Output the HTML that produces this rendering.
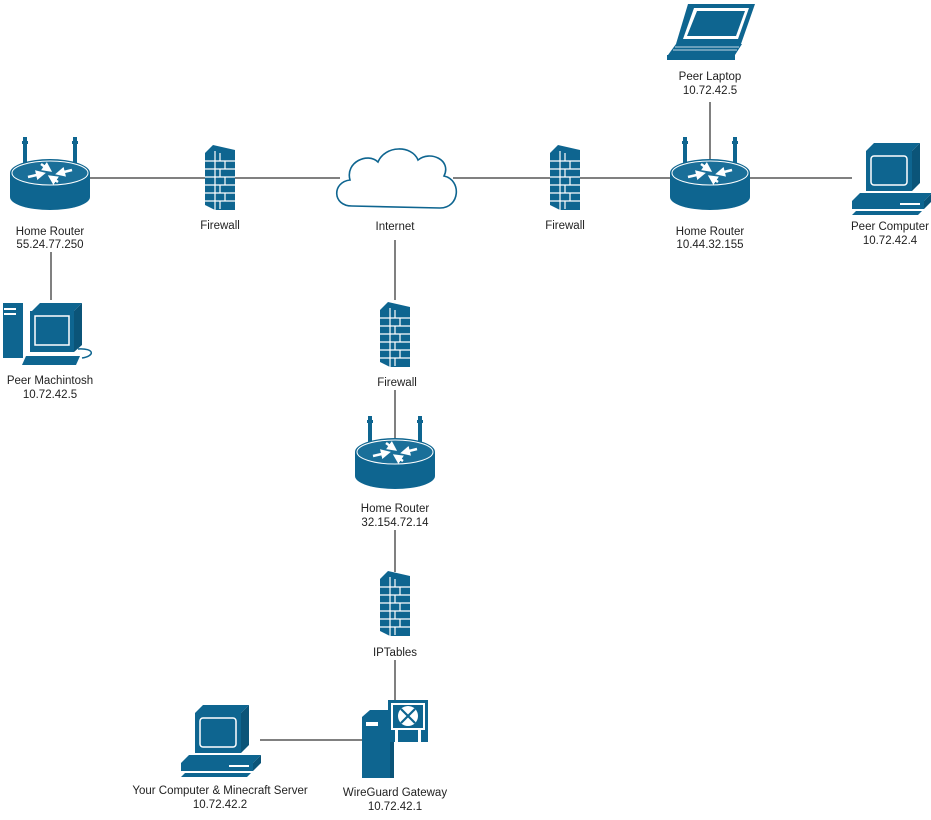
<!DOCTYPE html>
<html><head><meta charset="utf-8"><style>
html,body{margin:0;padding:0;background:#fff;}
svg text{font-family:"Liberation Sans",Arial,sans-serif;font-size:11.5px;fill:#222;text-anchor:middle;}
</style></head><body>
<svg width="931" height="815" viewBox="0 0 931 815" xmlns="http://www.w3.org/2000/svg">
<defs>
 <marker id="ah" markerWidth="4" markerHeight="4" refX="2" refY="2" orient="auto" markerUnits="strokeWidth"><path d="M0,0 L4,2 L0,4 Z" fill="#fff"/></marker>
 <g id="router">
  <rect x="13" y="0" width="4" height="30" fill="#0e6590"/>
  <rect x="63" y="0" width="4" height="30" fill="#0e6590"/>
  <rect x="12" y="4" width="6" height="3" fill="#0e6590"/>
  <rect x="62" y="4" width="6" height="3" fill="#0e6590"/>
  <path d="M0,36 L0,60 A40,13 0 0 0 80,60 L80,36 Z" fill="#0e6590"/>
  <ellipse cx="40" cy="36" rx="40" ry="14" fill="#0e6590"/>
  <ellipse cx="40" cy="36" rx="38" ry="12" fill="#1a6f99" stroke="#fff" stroke-width="1"/>
  <g stroke="#fff" stroke-width="2.5" marker-end="url(#ah)">
   <line x1="18" y1="40" x2="31" y2="37"/><line x1="62" y1="33" x2="50" y2="36"/>
   <line x1="31" y1="27" x2="38" y2="32"/><line x1="48" y1="45" x2="42" y2="41"/>
  </g>
 </g>
 <g id="fw">
  <path d="M0,8 L8,0 L30,5 L30,65 L10,65 L0,60 Z" fill="#0e6590"/>
  <g stroke="#fff" stroke-width="1.2">
   <line x1="10" y1="6" x2="10" y2="65"/>
   <line x1="0" y1="16" x2="30" y2="16"/><line x1="0" y1="24" x2="30" y2="24"/>
   <line x1="0" y1="32" x2="30" y2="32"/><line x1="0" y1="40" x2="30" y2="40"/>
   <line x1="0" y1="48" x2="30" y2="48"/><line x1="0" y1="56" x2="30" y2="56"/>
   <line x1="20" y1="16" x2="20" y2="24"/><line x1="20" y1="32" x2="20" y2="40"/><line x1="20" y1="48" x2="20" y2="56"/>
   <line x1="15" y1="8" x2="15" y2="16"/><line x1="15" y1="24" x2="15" y2="32"/><line x1="15" y1="40" x2="15" y2="48"/><line x1="15" y1="56" x2="15" y2="64"/>
  </g>
 </g>
 <g id="pc">
  <path d="M14,8 L22,0 L68,0 L60,8 Z" fill="#0e6590"/>
  <path d="M60,8 L68,0 L68,40 L60,48 Z" fill="#0b5478"/>
  <rect x="14" y="8" width="46" height="40" fill="#0e6590"/>
  <rect x="19" y="13" width="36" height="29" rx="3" fill="#0e6590" stroke="#fff" stroke-width="1.5"/>
  <path d="M0,58 L8,50 L80,50 L72,58 Z" fill="#0e6590"/>
  <rect x="0" y="58" width="72" height="8" fill="#0e6590"/>
  <path d="M72,58 L80,50 L80,58 L72,66 Z" fill="#0b5478"/>
  <rect x="48" y="60" width="20" height="2" fill="#fff"/>
  <path d="M4,68 L70,68 L66,72 L0,72 Z" fill="#0e6590"/>
 </g>
</defs>

<g stroke="#000" stroke-width="1">
 <line x1="90" y1="178" x2="205" y2="178"/>
 <line x1="235" y1="178" x2="340" y2="178"/>
 <line x1="453" y1="178" x2="550" y2="178"/>
 <line x1="578" y1="178" x2="672" y2="178"/>
 <line x1="748" y1="178" x2="852" y2="178"/>
 <line x1="710" y1="102" x2="710" y2="165"/>
 <line x1="51" y1="252" x2="51" y2="300"/>
 <line x1="395" y1="240" x2="395" y2="300"/>
 <line x1="395" y1="390" x2="395" y2="440"/>
 <line x1="395" y1="530" x2="395" y2="572"/>
 <line x1="395" y1="660" x2="395" y2="703"/>
 <line x1="260" y1="740" x2="362" y2="740"/>
</g>

<use href="#router" x="10" y="137"/>
<use href="#router" x="670" y="137"/>
<use href="#router" x="355" y="416"/>
<use href="#fw" x="205" y="145"/>
<use href="#fw" x="550" y="145"/>
<use href="#fw" x="380" y="302"/>
<use href="#fw" x="380" y="571"/>
<use href="#pc" x="852" y="143"/>
<use href="#pc" x="181" y="705"/>

<path d="M352,206 C332,206 332,182 350,180 C345,162 368,152 378,162 C385,145 412,145 418,160 C430,150 452,160 444,176 C462,180 460,208 440,208 Z" fill="#fff" stroke="#0e6590" stroke-width="1.6"/>

<path d="M688,4 L755,4 L741,44 L676,44 Z" fill="#0e6590"/>
<path d="M694,8 L749,8 L738,39 L683,39 Z" fill="#fff"/>
<path d="M697,11 L745,11 L736,36 L687,36 Z" fill="#0e6590"/>
<path d="M676,44 L742,44 L735,55 L668,55 Z" fill="#0e6590"/>
<g stroke="#fff" stroke-width="0.8"><line x1="675" y1="47" x2="739" y2="47"/><line x1="673" y1="50" x2="737" y2="50"/></g>
<rect x="667" y="55" width="68" height="5" fill="#0e6590"/>

<rect x="3" y="303" width="20" height="55" fill="#0e6590"/>
<rect x="4" y="308" width="12" height="2" fill="#fff"/><rect x="4" y="313" width="12" height="2" fill="#fff"/>
<path d="M32,311 L40,303 L82,303 L74,311 Z" fill="#0e6590"/>
<path d="M74,311 L82,303 L82,345 L74,352 Z" fill="#0b5478"/>
<rect x="30" y="311" width="44" height="41" fill="#0e6590"/>
<rect x="35" y="316" width="34" height="29" fill="#0e6590" stroke="#fff" stroke-width="1.5"/>
<path d="M26,356 L80,356 L76,365 L22,365 Z" fill="#0e6590"/>
<path d="M78,349 C95,348 95,356 82,358" fill="none" stroke="#0e6590" stroke-width="1.5"/>

<path d="M362,717 L370,710 L394,710 L394,778 L362,778 Z" fill="#0e6590"/>
<rect x="362" y="717" width="28" height="61" fill="#0e6590"/>
<rect x="366" y="722" width="12" height="4" fill="#fff"/>
<path d="M390,717 L394,712 L394,778 L390,778 Z" fill="#0b5478"/>
<rect x="388" y="700" width="40" height="42" fill="#0e6590"/>
<rect x="391" y="703" width="34" height="27" fill="#fff"/>
<rect x="393" y="705" width="30" height="23" fill="#0e6590"/>
<circle cx="408" cy="716" r="10" fill="#fff"/>
<g stroke="#0e6590" stroke-width="2.2"><line x1="401" y1="709" x2="415" y2="723"/><line x1="415" y1="709" x2="401" y2="723"/></g>
<rect x="395" y="730" width="3" height="12" fill="#fff"/><rect x="418" y="730" width="3" height="12" fill="#fff"/>

<text x="50" y="235">Home Router</text><text x="50" y="248">55.24.77.250</text>
<text x="220" y="229">Firewall</text>
<text x="395" y="230">Internet</text>
<text x="565" y="229">Firewall</text>
<text x="710" y="235">Home Router</text><text x="710" y="248">10.44.32.155</text>
<text x="890" y="230">Peer Computer</text><text x="890" y="244">10.72.42.4</text>
<text x="710" y="80">Peer Laptop</text><text x="710" y="94">10.72.42.5</text>
<text x="50" y="384">Peer Machintosh</text><text x="50" y="398">10.72.42.5</text>
<text x="397" y="386">Firewall</text>
<text x="395" y="512">Home Router</text><text x="395" y="526">32.154.72.14</text>
<text x="395" y="656">IPTables</text>
<text x="220" y="794">Your Computer &amp; Minecraft Server</text><text x="220" y="808">10.72.42.2</text>
<text x="395" y="796">WireGuard Gateway</text><text x="395" y="810">10.72.42.1</text>
</svg>
</body></html>
